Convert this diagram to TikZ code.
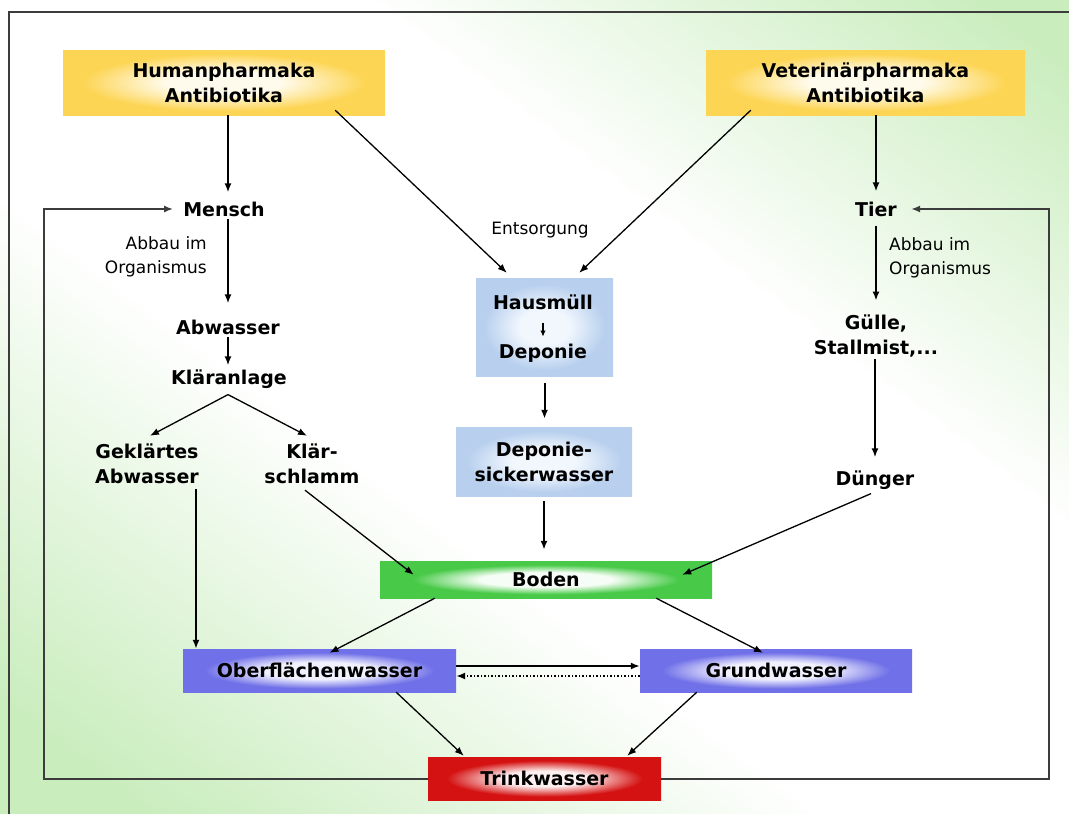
\documentclass[tikz,border=0pt]{standalone}
\usepackage{fontspec}
\setmainfont{DejaVu Sans}
\usetikzlibrary{arrows.meta,calc}

\definecolor{bggreen}{RGB}{202,237,190}
\definecolor{framegray}{RGB}{60,60,60}
\definecolor{ylw}{RGB}{253,213,84}
\definecolor{ylwin}{RGB}{255,251,236}
\definecolor{lblue}{RGB}{184,208,238}
\definecolor{lbluein}{RGB}{242,247,254}
\definecolor{grn}{RGB}{72,202,72}
\definecolor{grnin}{RGB}{246,253,246}
\definecolor{vio}{RGB}{112,112,232}
\definecolor{vioin}{RGB}{240,240,254}
\definecolor{rd}{RGB}{212,18,18}
\definecolor{rdin}{RGB}{254,240,240}

\pgfdeclareverticalshading{bgshade}{100bp}{color(0bp)=(bggreen); color(20bp)=(bggreen); color(42bp)=(white); color(62bp)=(white); color(82bp)=(bggreen); color(100bp)=(bggreen)}
\pgfdeclareradialshading{glowy}{\pgfpoint{0bp}{0bp}}{color(0bp)=(ylwin); color(9bp)=(ylwin); color(22bp)=(ylw); color(50bp)=(ylw)}
\pgfdeclareradialshading{glowb}{\pgfpoint{0bp}{0bp}}{color(0bp)=(lbluein); color(9bp)=(lbluein); color(22bp)=(lblue); color(50bp)=(lblue)}
\pgfdeclareradialshading{glowg}{\pgfpoint{0bp}{0bp}}{color(0bp)=(grnin); color(10bp)=(grnin); color(20bp)=(grn); color(50bp)=(grn)}
\pgfdeclareradialshading{glowv}{\pgfpoint{0bp}{0bp}}{color(0bp)=(vioin); color(10bp)=(vioin); color(21bp)=(vio); color(50bp)=(vio)}
\pgfdeclareradialshading{glowr}{\pgfpoint{0bp}{0bp}}{color(0bp)=(rdin); color(9bp)=(rdin); color(21bp)=(rd); color(50bp)=(rd)}

\begin{document}
\begin{tikzpicture}[x=1pt,y=-1pt,
  bf/.style={font=\bfseries\fontsize{19}{25}\selectfont, align=center, inner sep=0pt},
  rg/.style={font=\fontsize{17}{24}\selectfont, inner sep=0pt},
  boxy/.style={shading=glowy},
  boxb/.style={shading=glowb},
  boxg/.style={shading=glowg},
  boxv/.style={shading=glowv},
  boxr/.style={shading=glowr},
  arr/.style={-{Latex[length=9pt,width=7pt]}, line width=2pt, black},
  darr/.style={-{Latex[length=9pt,width=7pt]}, line width=1.3pt, black},
  sarr/.style={-{Latex[length=6pt,width=5.5pt]}, line width=1.5pt, black},
  looparr/.style={-{Latex[length=9pt,width=7pt]}, line width=2pt, framegray},
  dotarr/.style={-{Latex[length=9pt,width=7pt]}, line width=1.5pt, black, dotted},
]
\useasboundingbox (0,0) rectangle (1069,814);
\shade[shading=bgshade, shading angle=-37] (0,0) rectangle (1069,814);
\draw[framegray, line width=2.2pt] (1069,12) -- (9,12) -- (9,814);

% boxes
\node[bf, boxy, minimum width=322, minimum height=65] (hum) at (224,82.5) {Humanpharmaka\\Antibiotika};
\node[bf, boxy, minimum width=319, minimum height=65] (vet) at (865.5,82.5) {Veterinärpharmaka\\Antibiotika};
\node[boxb, minimum width=137, minimum height=98, inner sep=0pt] (haus) at (544.5,327) {};
\node[bf] (hm) at (543,302) {Hausmüll};
\node[bf] (dep) at (543,353) {Deponie};
\node[bf, boxb, minimum width=176, minimum height=69] (dsw) at (544,461.5) {Deponie-\\sickerwasser};
\node[bf, boxg, minimum width=332, minimum height=37] (boden) at (546,579.5) {Boden};
\node[bf, boxv, minimum width=273, minimum height=43] (ofw) at (319.5,670.5) {Oberflächenwasser};
\node[bf, boxv, minimum width=272, minimum height=43] (gw) at (776,670.5) {Grundwasser};
\node[bf, boxr, minimum width=233, minimum height=43] (tw) at (544.5,778.5) {Trinkwasser};

% text nodes
\node[bf] (mensch) at (224,209) {Mensch};
\node[bf] (tier) at (876,209) {Tier};
\node[rg, align=right, anchor=east] (abbau1) at (207,257) {Abbau im\\Organismus};
\node[rg, align=left, anchor=west] (abbau2) at (889,258) {Abbau im\\Organismus};
\node[bf] (abw) at (228,327) {Abwasser};
\node[bf] (klaer) at (229,379) {Kläranlage};
\node[bf] (gekl) at (147,464) {Geklärtes\\Abwasser};
\node[bf] (schl) at (312,464) {Klär-\\schlamm};
\node[rg] (ents) at (540,230) {Entsorgung};
\node[bf] (guelle) at (876,336) {Gülle,\\Stallmist,...};
\node[bf] (dueng) at (875,480) {Dünger};

% connectors
\draw[arr, shorten >=9pt] (hum.south -| abw.north) -- (mensch.north -| abw.north);
\draw[arr, shorten <=2pt, shorten >=16pt] (mensch.south -| abw.north) -- (abw.north);
\draw[arr, shorten <=2pt, shorten >=4pt] (abw.south) -- (klaer.north -| abw.south);
\draw[darr] ($(klaer.south)+(-1,6)$) -- ($(gekl.north)+(3,-8)$);
\draw[darr] ($(klaer.south)+(-1,6)$) -- ($(schl.north)+(-5,-8)$);
\draw[arr] ($(gekl.south east)+(-3,5)$) coordinate (g1) -- (g1 |- ofw.north);
\draw[darr] ($(schl.south)+(-7,6)$) -- ($(boden.north west)+(34,14)$);
\draw[darr] ($(hum.south east)+(-50,-5)$) -- ($(haus.north west)+(31,-5)$);
\draw[darr] ($(vet.south west)+(45,-5)$) -- ($(haus.north east)+(-34,-5)$);
\draw[sarr, shorten <=13pt, shorten >=7pt] (hm.south) -- (dep.north);
\draw[arr, shorten <=7pt, shorten >=8pt] (haus.south) -- (dsw.north -| haus.south);
\draw[arr, shorten <=5pt, shorten >=11pt] (dsw.south) -- (boden.north -| dsw.south);
\draw[arr, shorten >=10pt] (vet.south -| tier.north) -- (tier.north);
\draw[arr, shorten <=9pt, shorten >=14pt] (tier.south) -- (guelle.north -| tier.south);
\draw[arr, shorten <=2pt, shorten >=13pt] (guelle.south -| dueng.north) -- (dueng.north);
\draw[darr] ($(dueng.south)+(-4,4)$) -- ($(boden.north east)+(-30,14)$);
\draw[darr] ($(boden.south west)+(55,0)$) -- ($(ofw.north)+(10,4)$);
\draw[darr] ($(boden.south east)+(-56,0)$) -- ($(gw.north)+(-13,4)$);
\draw[arr, line width=1.6pt] ($(ofw.east)+(0,-4.5)$) -- ($(gw.west)+(0,-4.5)$);
\draw[dotarr] ($(gw.west)+(0,5.5)$) -- ($(ofw.east)+(0,5.5)$);
\draw[darr] ($(ofw.south east)+(-60,0)$) -- ($(tw.north west)+(36,-1)$);
\draw[darr] ($(gw.south west)+(57,0)$) -- ($(tw.north east)+(-34,-1)$);
\draw[looparr, shorten >=10pt] (tw.west) -| ($(mensch.west)+(-139,0)$) -- (mensch.west);
\draw[looparr, shorten >=14pt] (tw.east) -| ($(tier.east)+(152,0)$) -- (tier.east);
\end{tikzpicture}
\end{document}
